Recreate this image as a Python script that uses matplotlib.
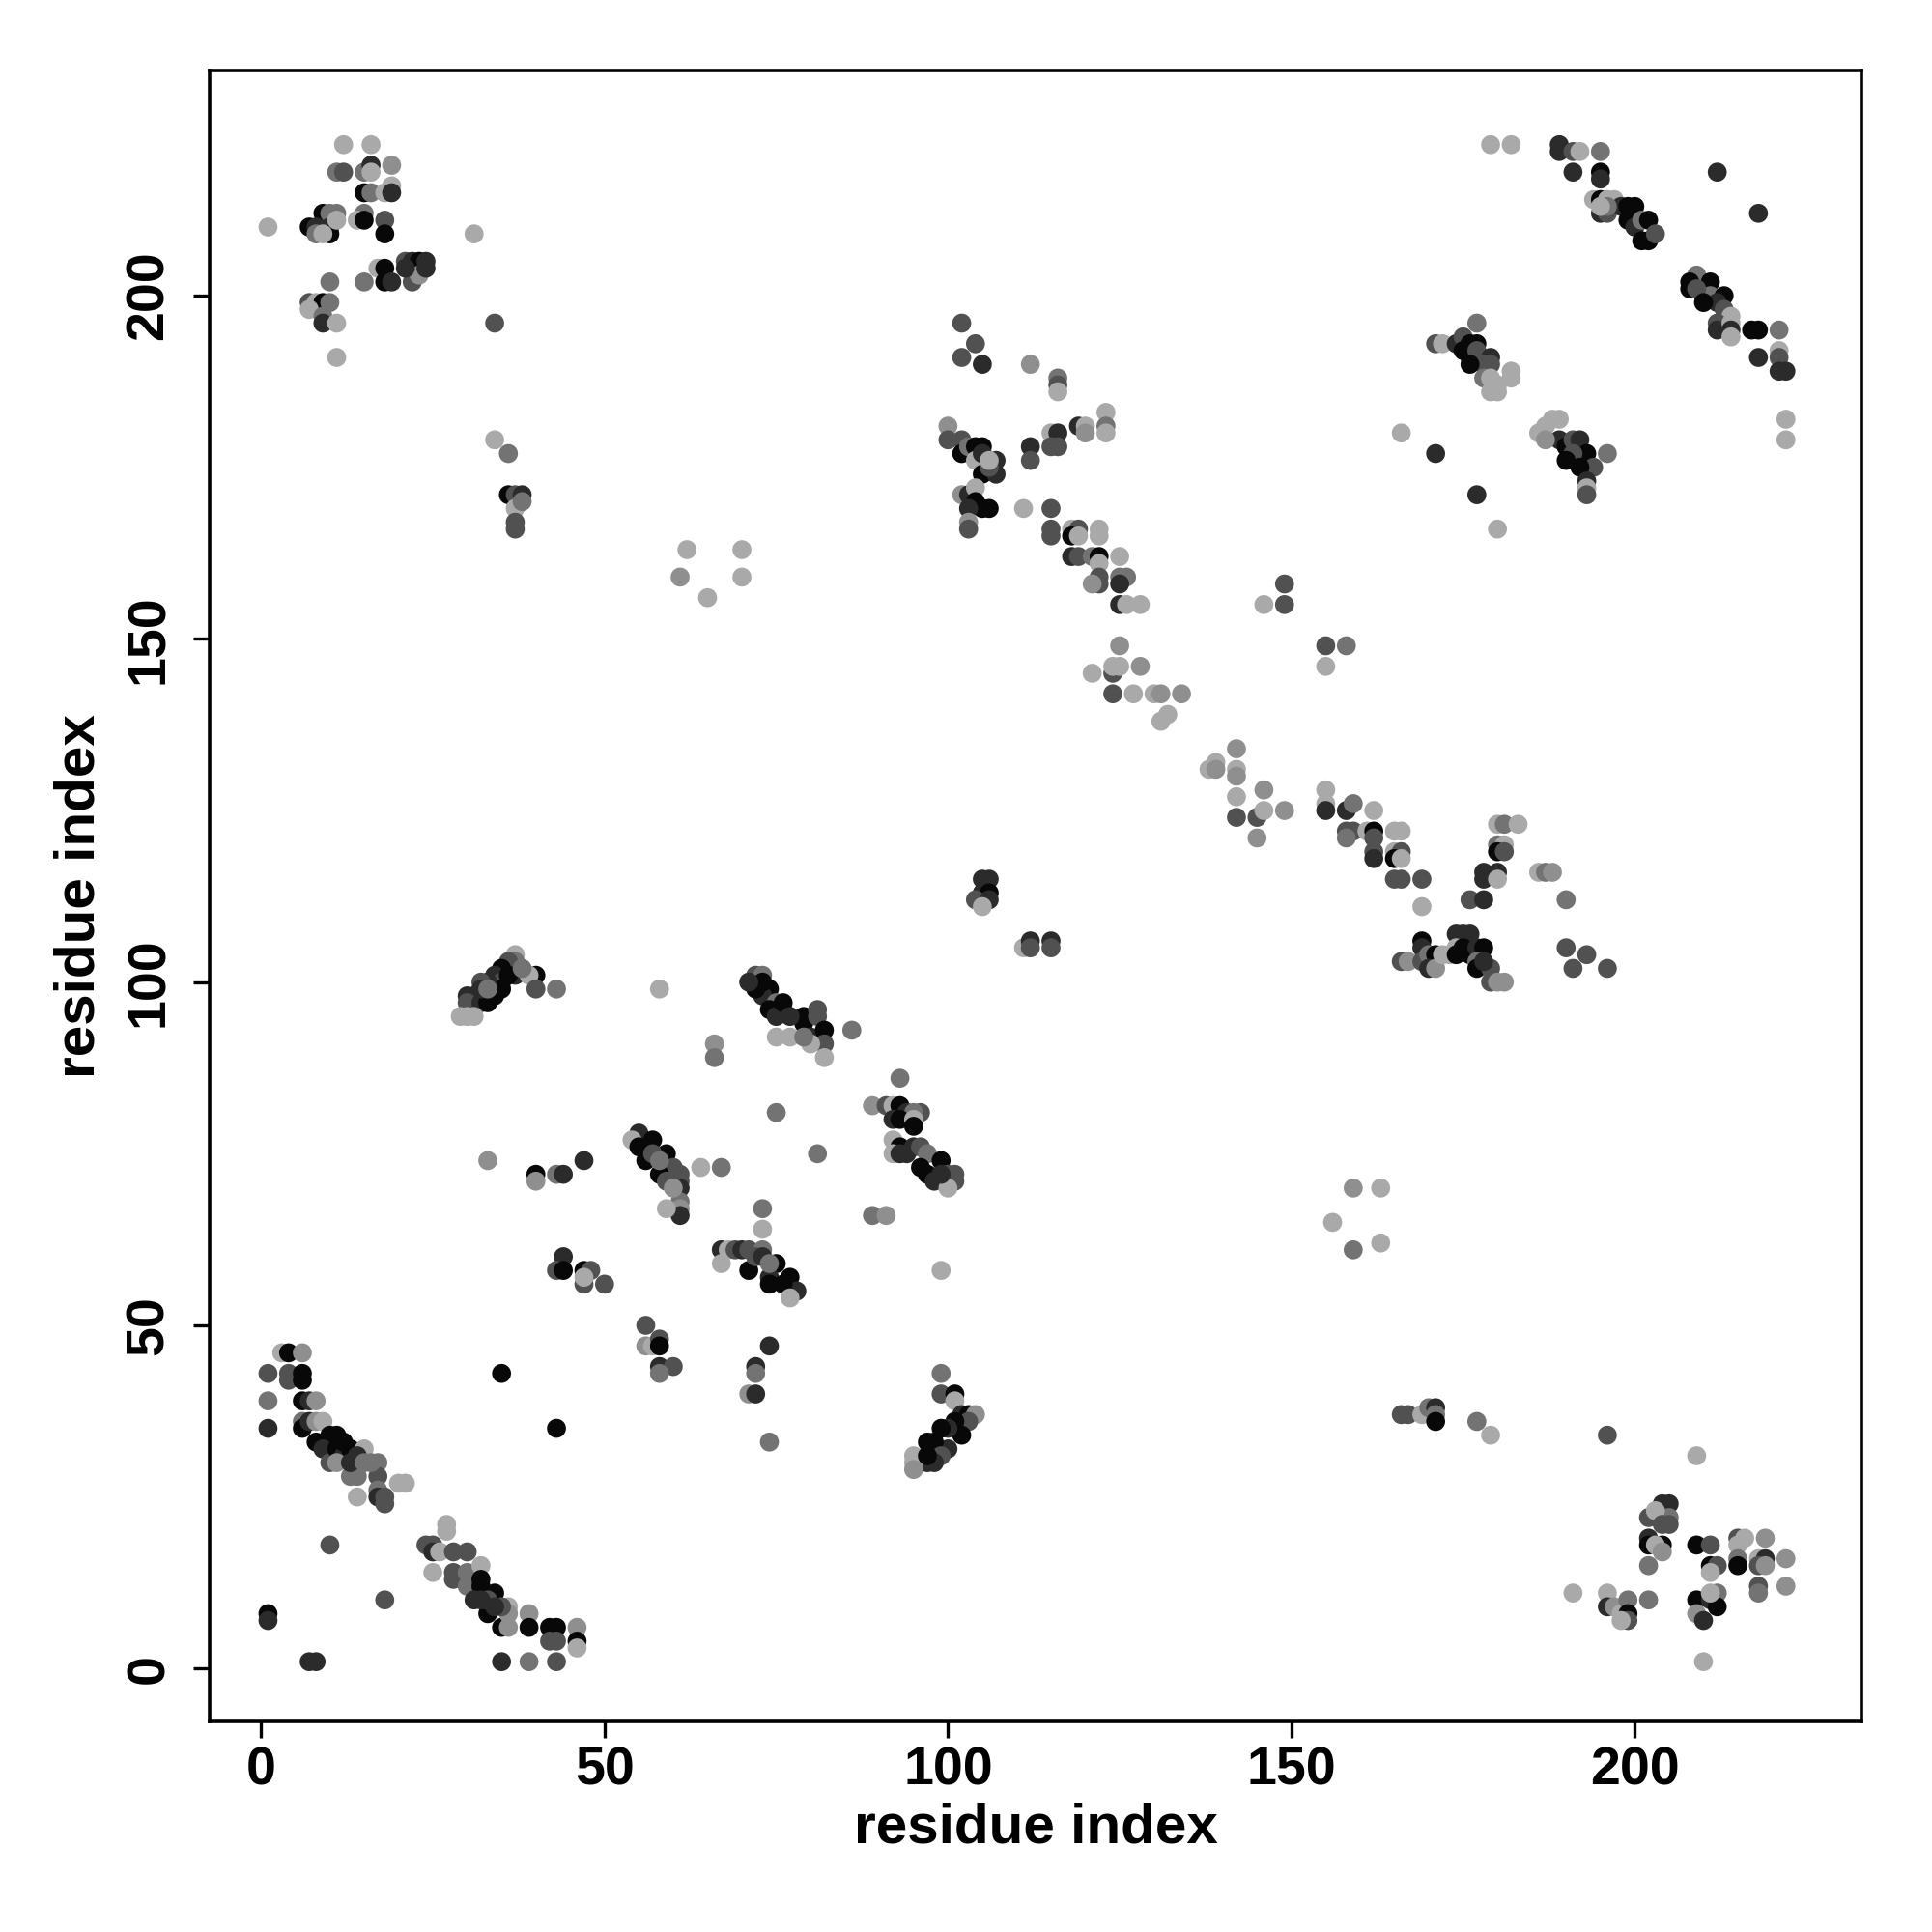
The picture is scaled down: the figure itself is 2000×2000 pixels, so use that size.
import numpy as np
import matplotlib
matplotlib.use('Agg')
import matplotlib.pyplot as plt

# ── CONTACTS: (residue i, residue j, shade level 0=darkest .. 5=lightest) ──
top_left = [
    (1,210,5),(12,222,5),(16,222,5),
    (11,218,3),(12,218,2),(15,218,3),(16,219,1),(16,218,5),(19,219,4),
    (15,215,0),(16,215,3),(18,215,5),(19,216,5),(19,215,1),
    (9,212,0),(10,212,3),(11,212,3),(7,210,0),(8,210,1),(10,210,1),(10,209,0),(11,211,5),(8,209,3),(9,209,5),
    (15,212,3),(14,211,5),(15,211,0),(18,211,2),(18,209,0),
    (31,209,5),
    (17,204,5),(18,204,0),(18,202,0),(19,202,1),(15,202,3),
    (21,205,2),(22,205,1),(23,205,0),(24,205,1),(22,202,2),(23,203,4),(21,204,1),(24,204,1),
    (10,202,3),
    (7,199,2),(8,199,5),(9,199,0),(10,199,3),(7,198,5),(9,197,3),(9,196,1),(11,196,5),
    (11,191,5),
    (34,196,2),(34,179,5),(36,177,3),
    (36,171,0),(37,171,2),(38,171,1),(37,169,5),(38,170,3),(37,167,2),(37,166,2),
    (62,163,5),(70,163,5),(61,159,4),(70,159,5),(65,156,5),
]

upper_mid = [
    (102,196,2),(104,193,2),(102,191,2),(105,190,1),(112,190,4),
    (116,188,3),(116,187,2),(116,186,5),
    (100,181,4),(100,179,2),
    (102,179,2),(102,177,0),(103,178,3),(104,178,0),(105,178,0),(104,176,5),(105,177,1),(105,174,0),
    (107,176,1),(107,174,1),(106,175,2),(106,176,5),
    (112,178,1),(112,176,2),
    (115,180,5),(116,180,1),(115,178,2),(116,178,2),
    (119,181,1),(120,181,5),(120,180,4),
    (123,183,5),(123,181,3),(123,180,5),
    (102,171,4),(103,171,1),(104,172,5),(104,170,0),(106,169,0),(105,169,0),(103,169,1),(103,167,4),(103,166,2),
    (111,169,5),(115,169,2),(115,166,2),(115,165,2),
    (118,166,5),(119,166,2),(118,165,0),(119,165,5),(122,166,5),(122,165,5),
    (118,162,1),(119,162,2),(121,162,3),(122,162,0),(125,162,5),
    (122,161,5),(122,159,2),(122,158,2),(121,158,4),
    (125,159,3),(126,159,3),(125,158,1),
    (125,155,1),(126,155,5),(128,155,5),
    (149,158,2),(146,155,5),(149,155,2),
    (125,149,4),
    (121,145,5),(124,145,2),(124,146,5),(125,146,5),(128,146,4),
    (124,142,2),(127,142,5),(130,142,5),(131,142,4),(134,142,4),
    (131,138,5),(132,139,5),
    (142,134,4),(139,132,5),(138,131,5),(139,131,4),(142,131,5),(142,130,4),(142,127,5),(146,128,4),
    (142,124,2),(145,124,2),(146,125,5),(149,125,4),(145,121,4),
    (105,115,1),(106,115,1),(105,113,1),(106,113,0),
    (104,112,2),(106,112,1),(105,111,5),
    (111,105,5),(112,106,1),(112,105,2),(115,106,1),(115,105,2),
]

top_right = [
    (179,222,5),(182,222,5),
    (189,222,1),(189,221,1),(191,221,2),(192,221,5),(195,221,3),
    (191,218,1),(195,218,0),(195,217,1),(212,218,1),(218,212,1),
    (194,214,5),(195,214,0),(196,214,5),(197,214,5),(195,212,1),(196,212,2),(198,213,1),(199,213,0),
    (200,213,0),(199,211,0),(200,210,1),(201,211,3),(202,211,0),(201,208,0),(202,208,0),(203,209,2),
    (196,213,3),(195,213,5),
    (209,203,3),(208,202,0),(211,202,0),(208,201,0),(210,200,0),(211,200,3),(213,200,0),(212,199,1),
    (213,198,2),(214,197,5),(212,196,2),(212,195,1),(214,196,5),(214,195,1),(214,194,5),(209,201,2),(210,199,0),
    (217,195,0),(218,195,0),(221,195,3),(218,191,1),
    (221,192,5),(221,191,2),(221,189,1),(222,189,1),(222,182,5),(222,179,5),
    (177,196,3),
    (171,193,2),(172,193,5),(174,193,1),(175,194,2),(176,193,0),(177,193,0),(175,192,0),(176,191,0),
    (177,192,2),(179,191,1),(178,190,2),(179,190,2),(178,188,3),(179,188,5),(180,187,5),(182,189,5),
    (182,188,5),(179,186,5),(180,186,5),(176,190,0),
    (166,180,5),(171,177,1),
    (186,180,5),(188,182,5),(189,182,5),(187,181,5),(189,179,1),(190,178,0),(191,179,2),(192,179,1),
    (193,177,0),(194,175,2),(191,177,2),(190,176,0),(192,175,0),(196,177,3),(193,173,1),(187,179,4),
    (177,171,1),(193,172,5),(193,171,2),(180,166,5),
]

right_mid = [
    (155,149,2),(158,149,3),(155,146,5),
    (155,128,5),(155,126,5),(155,125,1),(158,125,1),(159,126,3),(162,125,5),
    (158,122,2),(159,122,2),(158,121,3),(161,122,5),(162,122,0),(165,122,5),(166,122,5),
    (162,121,2),(162,119,2),(162,118,1),(165,119,5),(166,119,2),(165,118,0),(166,118,5),
    (165,115,2),(166,115,2),(169,115,2),
    (180,123,5),(181,123,3),(183,123,5),(180,120,3),(181,120,5),(180,119,0),(181,119,2),
    (178,116,1),(180,116,1),(178,115,1),(180,115,5),
    (186,116,5),(187,116,3),(188,116,4),
    (176,112,2),(178,112,1),(190,112,3),(169,111,5),
    (169,106,0),(169,105,1),(166,103,2),(167,103,4),(169,103,2),
    (170,104,3),(171,104,0),(170,102,1),(171,102,4),(172,104,5),(173,104,5),
    (174,107,1),(175,107,1),(176,107,1),(174,105,5),(174,104,0),(175,105,0),(176,104,0),(177,105,1),
    (178,105,0),(177,103,3),(177,102,0),(179,102,2),(178,103,1),(179,100,2),(180,100,4),(181,100,4),
    (190,105,2),(193,104,2),(191,102,2),(196,102,2),
    (159,70,4),(163,70,5),(156,65,5),(159,61,3),(163,62,5),
]

mid_left = [
    (37,104,5),(37,103,3),(37,101,1),(36,103,2),(35,102,0),(34,101,1),(35,100,2),(35,99,0),(34,98,0),
    (33,100,1),(32,100,2),(31,98,0),(30,98,1),(30,97,2),(32,97,1),(33,97,0),(29,95,5),(30,95,5),(31,95,5),
    (40,101,0),(39,101,5),(40,99,2),(43,99,3),(32,99,1),(33,99,3),(36,101,0),(38,102,3),
    (58,99,5),(66,91,4),(66,89,3),(71,100,5),(72,101,2),
    (33,74,4),(40,72,0),(40,71,4),(43,72,3),(44,72,1),(47,74,1),
    (55,78,1),(57,77,0),(59,75,0),(60,73,2),(61,72,2),(54,77,5),(55,76,0),(56,74,0),(58,72,0),(59,71,2),
    (61,71,2),(61,70,1),(61,68,3),(61,67,4),(61,66,1),(59,67,5),(57,75,2),(58,74,3),(60,70,4),
    (64,73,5),(67,73,3),(73,67,3),(73,64,5),
    (44,60,1),(43,58,2),(44,58,0),(47,58,0),(48,58,2),(47,56,2),(47,57,5),(50,56,2),
    (67,61,1),(68,61,5),(69,61,2),(70,61,1),(71,61,2),(67,59,5),(71,58,0),
    (73,101,3),(74,99,0),(73,98,1),(75,97,3),(76,96,2),(74,96,0),(75,95,1),(75,92,5),(77,92,5),(79,95,0),
    (79,94,0),(80,92,1),(81,96,2),(81,95,2),(82,93,0),(82,91,2),(82,89,5),(80,91,5),(79,92,3),(86,93,3),
    (72,99,0),(73,100,0),(71,100,1),(76,97,0),(77,95,1),
    (93,86,3),(75,81,3),(81,75,3),
    (89,82,4),(91,82,2),(92,82,5),(93,82,0),(94,81,1),(96,81,2),(95,81,3),(92,80,1),(93,80,0),(95,80,5),
    (95,79,0),(92,77,5),(93,76,0),(92,75,5),(93,75,1),(94,75,1),(95,76,1),(96,76,2),(97,75,3),(96,73,0),
    (99,74,0),(97,72,0),(98,71,1),(100,72,2),(101,72,2),(101,71,2),(100,70,5),(99,72,1),
    (89,66,3),(91,66,4),(99,58,5),
    (73,61,3),(75,59,0),(77,57,0),(78,55,1),(74,57,1),(76,56,0),(77,54,5),(74,56,0),(72,60,2),(73,60,1),(74,59,3),
]

bottom_left = [
    (56,50,2),(56,47,4),(57,47,5),(58,48,2),(58,47,0),(58,44,1),(60,44,2),(58,43,3),
    (72,44,1),(72,43,3),(71,40,4),(72,40,1),
    (35,43,0),(43,35,0),
    (3,46,5),(4,46,0),(6,46,4),
    (1,43,2),(4,43,2),(4,42,2),(6,43,0),(6,42,0),
    (1,39,3),(6,39,0),(7,39,1),(8,39,4),(1,35,1),
    (6,36,3),(6,35,0),(7,36,1),(8,36,4),(9,36,5),(10,34,0),(11,34,0),(8,33,0),(9,32,1),(10,30,2),
    (11,32,0),(12,31,1),(13,32,0),(15,32,5),(17,30,3),(17,28,2),(17,26,3),(17,25,1),(18,25,2),(18,24,2),
    (14,28,3),(14,25,5),(13,28,3),(11,30,4),(13,30,1),(20,27,5),(21,27,5),(12,33,0),(14,31,1),(15,30,3),(16,30,3),
    (10,18,2),(18,10,2),(1,8,0),(1,7,1),(7,1,1),(8,1,1),
    (27,21,5),(27,20,5),
    (24,18,2),(25,18,2),(25,17,1),(26,17,5),(28,17,2),(30,17,2),(25,14,5),(28,14,2),(28,13,2),(30,14,3),
    (30,12,3),(32,15,5),(32,13,0),(32,12,0),(31,10,1),(33,8,0),(34,11,0),(35,6,0),(36,9,5),(36,8,4),
    (36,6,4),(39,8,4),(39,6,0),(42,6,0),(43,6,0),(43,4,2),(42,4,2),(46,6,4),(46,4,0),(46,3,5),
    (35,1,1),(39,1,3),(43,1,2),(33,10,2),(35,9,2),(34,9,1),(32,10,1),
]

bottom_mid = [
    (74,47,1),(74,33,3),(99,43,3),(99,40,2),(101,40,0),(101,39,5),
    (102,37,1),(103,37,0),(104,37,4),(103,36,2),(101,36,0),(102,34,0),(100,35,1),(99,35,0),(100,32,1),
    (98,33,0),(97,33,0),(99,31,2),(98,30,1),(97,30,1),(95,31,5),(95,30,5),(95,29,4),(97,31,0),
]

bottom_right = [
    (166,37,2),(167,37,2),(169,37,5),(170,38,3),(171,38,1),(171,37,3),(171,36,0),(177,36,3),(179,34,5),
    (196,34,2),(209,31,5),
    (202,22,2),(204,24,1),(205,24,1),(204,22,3),(205,22,3),(203,23,5),(204,21,2),(205,21,2),(202,19,1),
    (202,18,0),(204,18,0),(203,18,5),(204,17,4),(202,15,3),
    (209,18,0),(211,18,2),
    (215,19,2),(216,19,5),(219,19,4),(215,18,5),(215,16,3),(215,15,0),(218,16,5),(219,16,1),(218,15,2),
    (219,15,4),(222,16,4),(218,12,2),(218,11,3),(222,12,4),
    (211,15,0),(212,15,2),(211,14,5),
    (191,11,5),(196,11,5),(196,9,1),(197,9,4),(198,8,5),(199,10,3),(199,8,0),(199,7,2),(198,7,5),(202,10,3),
    (209,10,0),(211,10,1),(212,11,3),(212,9,0),(209,8,4),(210,7,1),(211,11,5),(210,1,5),
]

ticks = [0, 50, 100, 150, 200]

# ── PLOT ──
contacts = np.array(top_left + upper_mid + top_right + right_mid + mid_left
                    + bottom_left + bottom_mid + bottom_right)
greys = np.array(['#080808', '#2b2b2b', '#515151', '#737373', '#8f8f8f', '#a9a9a9'])

plt.rcParams['font.family'] = ['Liberation Sans', 'DejaVu Sans']
plt.rcParams['font.weight'] = 'bold'

fig = plt.figure(figsize=(10, 10), dpi=200)
ax = fig.add_axes([0.1085, 0.109, 0.855, 0.8545])

ax.scatter(contacts[:, 0], contacts[:, 1], s=50, c=greys[contacts[:, 2]],
           linewidths=0)

ax.set_xlim(-7.5, 233.0)
ax.set_ylim(-7.7, 232.8)
ax.set_xticks(ticks)
ax.set_yticks(ticks)
ax.tick_params(length=6, width=1.2, labelsize=20, pad=3)
ax.tick_params(axis='y', labelrotation=90, pad=7)
for lbl in ax.get_yticklabels():
    lbl.set_va('center')
for sp in ax.spines.values():
    sp.set_linewidth(1.3)

ax.set_xlabel('residue index', fontsize=21, fontweight='bold', va='center')
ax.set_ylabel('residue index', fontsize=21, fontweight='bold', va='center')
ax.xaxis.set_label_coords(0.5, -0.0644)
ax.yaxis.set_label_coords(-0.0784, 0.5)

fig.savefig('out.png', dpi=200, facecolor='white')
